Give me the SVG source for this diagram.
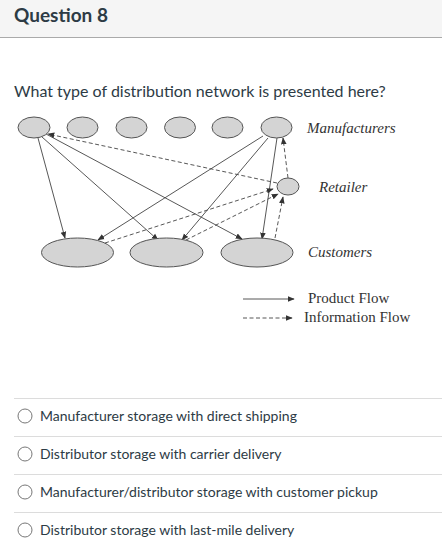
<svg xmlns="http://www.w3.org/2000/svg" width="442" height="558" viewBox="0 0 442 558">
<style>
.ui{font-family:Lato,"Liberation Sans",sans-serif;fill:#2d3b45}
.node{fill:#d4d4d4;stroke:#555;stroke-width:1}
.lbl{font-family:"Liberation Serif",serif;font-size:15px;fill:#333}
.it{font-style:italic}
.pf{stroke:#444;stroke-width:0.9;fill:none;marker-end:url(#ah)}
.inf{stroke:#444;stroke-width:0.9;fill:none;stroke-dasharray:4 2.5;marker-end:url(#ah)}
.sep{stroke:#dcdcdc;stroke-width:1}
.radio{fill:#fff;stroke:#777;stroke-width:1}
</style>
<defs>
<marker id="ah" viewBox="0 0 10 10" refX="9" refY="5" markerWidth="7" markerHeight="7" markerUnits="userSpaceOnUse" orient="auto">
<path d="M0,1 L10,5 L0,9 Z" fill="#333"/>
</marker>
</defs>
<rect width="442" height="558" fill="#fff"/>
<g id="header">
<rect x="0" y="0" width="442" height="37" fill="#f5f5f5"/>
<line x1="0" y1="37.5" x2="442" y2="37.5" stroke="#aaa" stroke-width="1"/>
<text class="ui" x="14" y="22" font-size="19" font-weight="bold">Question 8</text>
</g>
<text class="ui" x="14" y="97" font-size="16">What type of distribution network is presented here?</text>

<g id="connectors">
<line class="pf" x1="38" y1="138" x2="65" y2="238"/>
<line class="pf" x1="42" y1="137" x2="158" y2="240"/>
<line class="pf" x1="46" y1="134" x2="242" y2="239"/>
<line class="pf" x1="263" y1="136" x2="98" y2="240"/>
<line class="pf" x1="268" y1="138" x2="182" y2="240"/>
<line class="pf" x1="277" y1="138" x2="262" y2="239"/>
<line class="inf" x1="288" y1="178" x2="283" y2="138"/>
<line class="inf" x1="277" y1="183" x2="48" y2="134"/>
<line class="inf" x1="105" y1="243" x2="273" y2="189"/>
<line class="inf" x1="186" y1="240" x2="278" y2="194"/>
<line class="inf" x1="275" y1="238" x2="283" y2="197"/>
</g>

<g id="manufacturers">
<ellipse class="node" cx="34" cy="127.5" rx="16" ry="10.5"/>
<ellipse class="node" cx="82.5" cy="127.5" rx="15.5" ry="10.5"/>
<ellipse class="node" cx="131.5" cy="127.5" rx="15.5" ry="10.5"/>
<ellipse class="node" cx="180" cy="127.5" rx="15.5" ry="10.5"/>
<ellipse class="node" cx="227.5" cy="127.5" rx="15.5" ry="10.5"/>
<ellipse class="node" cx="276.5" cy="127.5" rx="15.5" ry="10.5"/>
<text class="lbl it" x="307" y="133">Manufacturers</text>
</g>
<g id="retailer">
<ellipse class="node" cx="288" cy="186.5" rx="11" ry="8.5"/>
<text class="lbl it" x="319" y="192">Retailer</text>
</g>
<g id="customers">
<ellipse class="node" cx="77.5" cy="252.5" rx="36" ry="14.5"/>
<ellipse class="node" cx="166.5" cy="252.5" rx="36.5" ry="14.5"/>
<ellipse class="node" cx="257" cy="252.5" rx="36" ry="14.5"/>
<text class="lbl it" x="308" y="257">Customers</text>
</g>
<g id="legend">
<line class="pf" x1="243" y1="299" x2="294" y2="299"/>
<text class="lbl" x="308" y="303">Product Flow</text>
<line class="inf" x1="243" y1="318" x2="292" y2="318"/>
<text class="lbl" x="304" y="322">Information Flow</text>
</g>

<g id="options">
<line class="sep" x1="14" y1="398.5" x2="442" y2="398.5"/>
<circle class="radio" cx="25" cy="416" r="7"/>
<text class="ui" x="40" y="420.5" font-size="14">Manufacturer storage with direct shipping</text>
<line class="sep" x1="14" y1="436.5" x2="442" y2="436.5"/>
<circle class="radio" cx="25" cy="454" r="7"/>
<text class="ui" x="40" y="458.5" font-size="14">Distributor storage with carrier delivery</text>
<line class="sep" x1="14" y1="474.5" x2="442" y2="474.5"/>
<circle class="radio" cx="25" cy="492" r="7"/>
<text class="ui" x="40" y="496.5" font-size="14">Manufacturer/distributor storage with customer pickup</text>
<line class="sep" x1="14" y1="512.5" x2="442" y2="512.5"/>
<circle class="radio" cx="25" cy="530" r="7"/>
<text class="ui" x="40" y="534.5" font-size="14">Distributor storage with last-mile delivery</text>
</g>
</svg>
